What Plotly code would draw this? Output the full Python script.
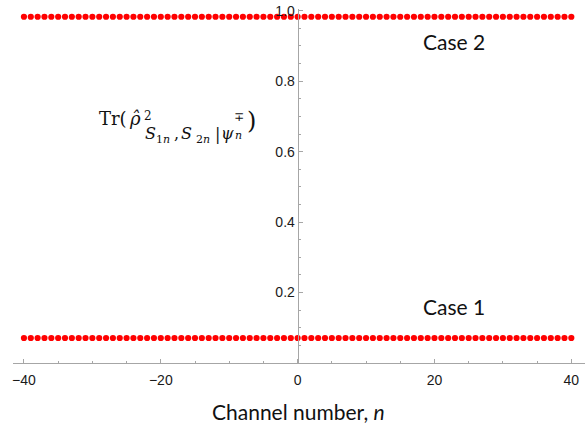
import plotly.graph_objects as go

# ---- data ----
channel_n = list(range(-40, 41))
case1_values = [
    0.071, 0.071, 0.071, 0.071, 0.071, 0.071, 0.071, 0.071, 0.071,
    0.071, 0.071, 0.071, 0.071, 0.071, 0.071, 0.071, 0.071, 0.071,
    0.071, 0.071, 0.071, 0.071, 0.071, 0.071, 0.071, 0.071, 0.071,
    0.071, 0.071, 0.071, 0.071, 0.071, 0.071, 0.071, 0.071, 0.071,
    0.071, 0.071, 0.071, 0.071, 0.071, 0.071, 0.071, 0.071, 0.071,
    0.071, 0.071, 0.071, 0.071, 0.071, 0.071, 0.071, 0.071, 0.071,
    0.071, 0.071, 0.071, 0.071, 0.071, 0.071, 0.071, 0.071, 0.071,
    0.071, 0.071, 0.071, 0.071, 0.071, 0.071, 0.071, 0.071, 0.071,
    0.071, 0.071, 0.071, 0.071, 0.071, 0.071, 0.071, 0.071, 0.071,
]
case2_values = [
    0.983, 0.983, 0.983, 0.983, 0.983, 0.983, 0.983, 0.983, 0.983,
    0.983, 0.983, 0.983, 0.983, 0.983, 0.983, 0.983, 0.983, 0.983,
    0.983, 0.983, 0.983, 0.983, 0.983, 0.983, 0.983, 0.983, 0.983,
    0.983, 0.983, 0.983, 0.983, 0.983, 0.983, 0.983, 0.983, 0.983,
    0.983, 0.983, 0.983, 0.983, 0.983, 0.983, 0.983, 0.983, 0.983,
    0.983, 0.983, 0.983, 0.983, 0.983, 0.983, 0.983, 0.983, 0.983,
    0.983, 0.983, 0.983, 0.983, 0.983, 0.983, 0.983, 0.983, 0.983,
    0.983, 0.983, 0.983, 0.983, 0.983, 0.983, 0.983, 0.983, 0.983,
    0.983, 0.983, 0.983, 0.983, 0.983, 0.983, 0.983, 0.983, 0.983,
]
x_ticks = [-40, -20, 0, 20, 40]
y_ticks = [0.2, 0.4, 0.6, 0.8, 1.0]
y_tick_labels = ["0.2", "0.4", "0.6", "0.8", "1.0"]

# ---- layout geometry ----
W_PX, H_PX = 588, 423
L, R, T, B = 13, 3, 9, 60
X_RANGE = [-41.6, 42.0]
Y_RANGE = [0, 1.005]
plot_w = W_PX - L - R
plot_h = H_PX - T - B


def pxx(x):
    return (x - L) / plot_w


def pxy(y):
    return (H_PX - B - y) / plot_h


yaxis_pos = (0 - X_RANGE[0]) / (X_RANGE[1] - X_RANGE[0])

AXIS_COLOR = "#a6a6a6"
TEXT_COLOR = "#111111"
TICK_FONT = dict(family="Liberation Sans, Arial, sans-serif", size=14, color="#1a1a1a")
LABEL_FONT = "Lato, Open Sans, sans-serif"
MATH_FONT = "DejaVu Serif, Liberation Serif, serif"


def note(text, x, y, size, family=MATH_FONT, xanchor="center"):
    return dict(text=text, x=pxx(x), y=pxy(y), xref="paper", yref="paper",
                xanchor=xanchor, yanchor="middle", showarrow=False,
                borderpad=0, font=dict(family=family, size=size, color=TEXT_COLOR))


fig = go.Figure()
for vals in (case1_values, case2_values):
    fig.add_trace(go.Scatter(
        x=channel_n, y=vals, mode="markers",
        marker=dict(color="#ff0000", size=6.2, line=dict(width=0)),
        showlegend=False, hoverinfo="skip",
    ))

annotations = [
    note("Case 2", 454, 42, 21, LABEL_FONT),
    note("Case 1", 454, 306, 21, LABEL_FONT),
    note("Channel number, <i>n</i>", 298, 411, 21, LABEL_FONT),
    # y label pieces: Tr(ρ̂^2_{S1n,S2n|ψn∓})
    note("Tr(", 113, 118, 18),
    note("<i>ρ\u0302</i>", 135, 118, 18),
    note("2", 148, 116, 12),
    note("<i>S</i>", 150, 133.5, 16),
    note("1<i>n</i>", 163, 139.5, 11),
    note(",", 176, 133.5, 16),
    note("<i>S</i>", 186, 133.5, 16),
    note("2<i>n</i>", 203, 139.5, 11),
    note("|", 217, 134.5, 16),
    note("<i>ψ</i>", 227, 133, 16),
    note("<i>n</i>", 238, 135.5, 11),
    note("∓", 239, 116.5, 12),
    note(")", 251, 120.5, 24),
]

fig.update_layout(
    width=W_PX, height=H_PX,
    margin=dict(l=L, r=R, t=T, b=B, pad=0),
    paper_bgcolor="white", plot_bgcolor="white",
    annotations=annotations,
    xaxis=dict(
        range=X_RANGE, tickvals=x_ticks, showgrid=False, zeroline=False,
        showline=True, linecolor=AXIS_COLOR, linewidth=1,
        ticks="inside", ticklen=4, tickcolor=AXIS_COLOR, tickfont=TICK_FONT,
        ticklabelstandoff=4,
        minor=dict(dtick=5, tick0=0, ticks="inside", ticklen=2.5, tickcolor=AXIS_COLOR),
        fixedrange=True,
    ),
    yaxis=dict(
        range=Y_RANGE, tickvals=y_ticks, ticktext=y_tick_labels,
        anchor="free", position=yaxis_pos, side="left",
        showgrid=False, zeroline=False,
        showline=True, linecolor=AXIS_COLOR, linewidth=1,
        ticks="inside", ticklen=4, tickcolor=AXIS_COLOR, tickfont=TICK_FONT,
        minor=dict(dtick=0.05, tick0=0, ticks="inside", ticklen=2.5, tickcolor=AXIS_COLOR),
        fixedrange=True,
    ),
)

fig.write_html("out.html")
